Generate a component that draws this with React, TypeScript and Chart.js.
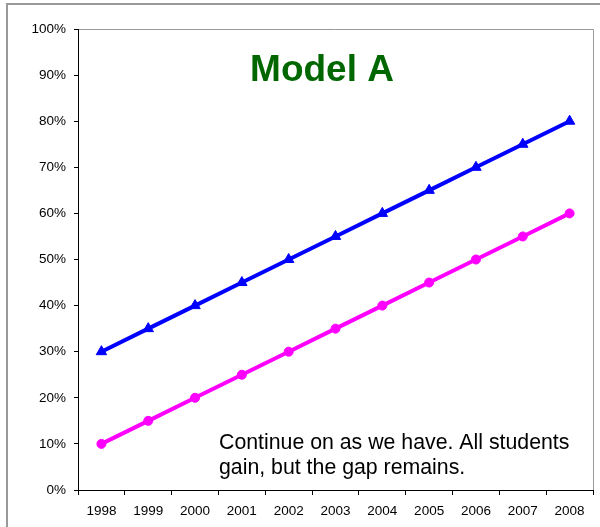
import React, { useEffect, useRef } from "react";
import { Chart, registerables } from "chart.js";

Chart.register(...registerables);

const years = ["1998", "1999", "2000", "2001", "2002", "2003", "2004", "2005", "2006", "2007", "2008"];
const blueSeries = [30, 35, 40, 45, 50, 55, 60, 65, 70, 75, 80];
const magentaSeries = [10, 15, 20, 25, 30, 35, 40, 45, 50, 55, 60];
const titleText = "Model A";
const noteLines = ["Continue on as we have. All students", "gain, but the gap remains."];

const FONT = "Arial, 'Liberation Sans', sans-serif";

const decorPlugin = {
  id: "decor",
  beforeDraw(chart: any) {
    const { ctx, chartArea } = chart;
    ctx.save();
    ctx.fillStyle = "#fff";
    ctx.fillRect(0, 0, chart.width, chart.height);
    ctx.strokeStyle = "#999";
    ctx.lineWidth = 2;
    ctx.strokeRect(7, 4, 700, 700);
    ctx.lineWidth = 1;
    ctx.strokeStyle = "#999";
    ctx.beginPath();
    ctx.moveTo(chartArea.left, chartArea.top + 0.5);
    ctx.lineTo(chartArea.right + 0.5, chartArea.top + 0.5);
    ctx.lineTo(chartArea.right + 0.5, chartArea.bottom);
    ctx.stroke();
    ctx.restore();
  },
  afterDraw(chart: any) {
    const { ctx } = chart;
    ctx.save();
    ctx.fillStyle = "#006600";
    ctx.font = `bold 37px ${FONT}`;
    ctx.textAlign = "center";
    ctx.textBaseline = "alphabetic";
    ctx.fillText(titleText, 322, 81);
    ctx.fillStyle = "#000";
    ctx.font = `21.3px ${FONT}`;
    ctx.textAlign = "left";
    noteLines.forEach((l, i) => ctx.fillText(l, 219, 449 + i * 24.5));
    ctx.restore();
  },
};

export default function App() {
  const ref = useRef<HTMLCanvasElement>(null);
  useEffect(() => {
    const chart = new Chart(ref.current!, {
      type: "line",
      data: {
        labels: years,
        datasets: [
          {
            data: blueSeries,
            borderColor: "#0000ff",
            backgroundColor: "#0000ff",
            borderWidth: 4,
            pointStyle: "triangle",
            pointRadius: 6,
            pointBorderWidth: 1,
          },
          {
            data: magentaSeries,
            borderColor: "#ff00ff",
            backgroundColor: "#ff00ff",
            borderWidth: 4,
            pointStyle: "circle",
            pointRadius: 4.5,
            pointBorderWidth: 1,
          },
        ],
      },
      options: {
        animation: false,
        responsive: false,
        layout: { padding: { top: 29, right: 5, left: 0, bottom: 0 } },
        plugins: { legend: { display: false }, tooltip: { enabled: false } },
        scales: {
          x: {
            offset: true,
            grid: { offset: true, drawOnChartArea: false, drawTicks: true, tickLength: 5, color: "#000" },
            border: { color: "#000", width: 1 },
            ticks: { color: "#000", font: { family: FONT, size: 13.5 }, padding: 8, maxRotation: 0, autoSkip: false },
            afterFit(scale: any) {
              scale.height = 37;
            },
          },
          y: {
            min: 0,
            max: 100,
            grid: { drawOnChartArea: false, drawTicks: true, tickLength: 4, color: "#000" },
            border: { color: "#000", width: 1 },
            ticks: {
              stepSize: 10,
              color: "#000",
              font: { family: FONT, size: 13.5 },
              padding: 8,
              callback: (v: any) => v + "%",
            },
            afterFit(scale: any) {
              scale.width = 78;
            },
          },
        },
      },
      plugins: [decorPlugin],
    });
    return () => chart.destroy();
  }, []);
  return (
    <div style={{ position: "fixed", left: 0, top: 0, width: 600, height: 527 }}>
      <canvas ref={ref} width={600} height={527} style={{ display: "block" }} />
    </div>
  );
}
